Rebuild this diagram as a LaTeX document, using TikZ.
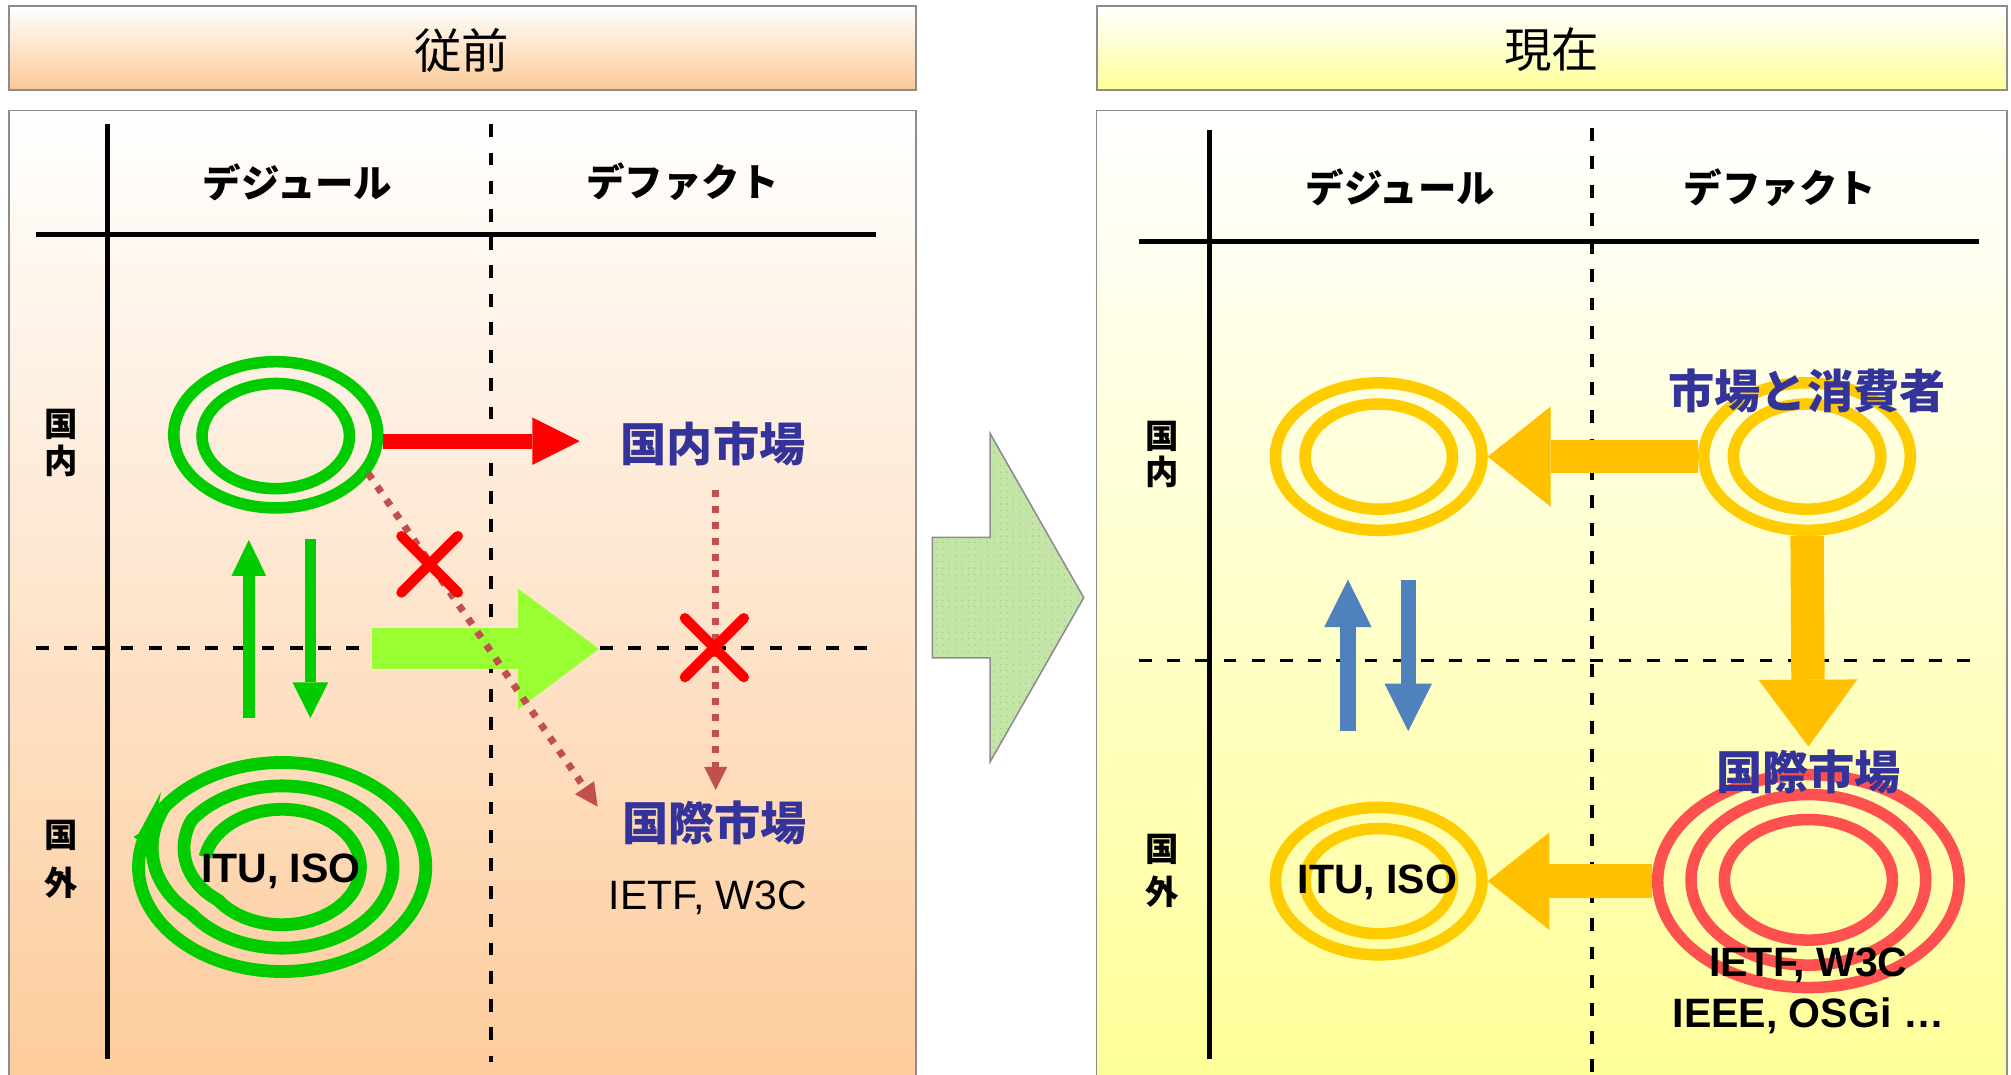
\documentclass[tikz,border=0pt]{standalone}
\usepackage{fontspec}
\setmainfont{Liberation Sans}
\newfontfamily\jp{Noto Sans CJK JP}
\usetikzlibrary{arrows.meta,shapes.geometric,patterns.meta}
\definecolor{frameGray}{HTML}{8C8C8C}
\definecolor{peachTitle}{HTML}{FCC995}
\definecolor{peachPanel}{HTML}{FDCC9C}
\definecolor{yellowTitle}{HTML}{FFFF99}
\definecolor{yellowPanel}{HTML}{FFFF99}
\definecolor{ringGreen}{HTML}{00CC00}
\definecolor{lightGreen}{HTML}{99FF33}
\definecolor{dotRed}{HTML}{C0504D}
\definecolor{mktBlue}{HTML}{333399}
\definecolor{ringGold}{HTML}{FFCC00}
\definecolor{arrowOrange}{HTML}{FFC000}
\definecolor{ringRed}{HTML}{FF5050}
\definecolor{arrowBlue}{HTML}{4F81BD}
\definecolor{midGreen}{HTML}{C4E4A8}
\definecolor{midDots}{HTML}{92CD6E}
\begin{document}
\begin{tikzpicture}[x=1pt,y=-1pt,
  titlebox/.style={draw=frameGray, line width=1.5pt},
  panelframe/.style={draw=frameGray, line width=1.2pt},
  axisline/.style={line width=4pt, black},
  gridline/.style={line width=3pt, black, dash pattern=on 10pt off 12pt},
  ring/.style n args={2}{ellipse, draw, inner sep=0pt, minimum width=#1pt, minimum height=#2pt},
  blockarrow/.style n args={3}{line width=#1pt, -{Triangle[width=#2pt,length=#3pt,line width=0pt]}},
  dotarrow/.style={draw=dotRed, line width=5.5pt, dash pattern=on 5.5pt off 7pt, -{Triangle[width=18pt,length=18pt,line width=0pt]}},
  xmark/.style={draw=red, line width=8pt, line cap=round},
  titletext/.style={font=\jp\fontsize{37}{40}\selectfont, inner sep=0pt},
  headtext/.style={font=\jp\bfseries\fontsize{30}{34}\selectfont, inner sep=0pt},
  sidetext/.style={font=\jp\bfseries\fontsize{26}{28}\selectfont, inner sep=0pt},
  mkt/.style={font=\jp\bfseries\fontsize{36}{40}\selectfont, text=mktBlue, inner sep=0pt},
  latb/.style={font=\bfseries\fontsize{32}{36}\selectfont, inner sep=0pt},
  latr/.style={font=\fontsize{32}{36}\selectfont, inner sep=0pt}
]
\useasboundingbox (0,0) rectangle (1568,838);

% ---------- title boxes ----------
\shade[top color=white, bottom color=peachTitle] (7,5) rectangle (714,70);
\draw[titlebox] (7,5) rectangle (714,70);
\shade[top color=white, bottom color=yellowTitle] (855,5) rectangle (1565,70);
\draw[titlebox] (855,5) rectangle (1565,70);
\node[titletext] (tLeft) at (360,39) {従前};
\node[titletext] (tRight) at (1210,39) {現在};

% ---------- panels ----------
\shade[top color=white, bottom color=peachPanel] (7,86) rectangle (714,838);
\draw[panelframe] (7,840) |- (714,86) -- (714,840);
\shade[top color=white, bottom color=yellowPanel] (855,86) rectangle (1565,838);
\draw[panelframe] (855,840) |- (1565,86) -- (1565,840);

% ---------- middle arrow ----------
\fill[midGreen]
  (727,419) -- (772,419) -- (772,338) -- (845,466) -- (772,594) -- (772,513) -- (727,513) -- cycle;
\fill[pattern={Dots[distance=5pt, radius=0.55pt]}, pattern color=midDots]
  (727,419) -- (772,419) -- (772,338) -- (845,466) -- (772,594) -- (772,513) -- (727,513) -- cycle;
\draw[draw=frameGray, line width=1.2pt, line join=miter]
  (727,419) -- (772,419) -- (772,338) -- (845,466) -- (772,594) -- (772,513) -- (727,513) -- cycle;

% ---------- grids ----------
\draw[axisline] (84,97) -- (84,826);
\draw[axisline] (28,183) -- (683,183);
\draw[gridline] (383,97) -- (383,828);
\draw[gridline] (28,505) -- (683,505);
\draw[axisline] (943,101) -- (943,826);
\draw[axisline] (888,188) -- (1543,188);
\draw[gridline] (1241,100) -- (1241,838);
\draw[gridline] (888,515) -- (1543,515);

% ---------- headers ----------
\node[headtext] (hL1) at (232,142) {デジュール};
\node[headtext] (hL2) at (532,142) {デファクト};
\node[headtext] (hR1) at (1092,146) {デジュール};
\node[headtext] (hR2) at (1388,146) {デファクト};

\node[sidetext] (sL1) at (48,331) {国};
\node[sidetext] (sL2) at (48,359) {内};
\node[sidetext] (sL3) at (48,651) {国};
\node[sidetext] (sL4) at (48,688) {外};
\node[sidetext] (sR1) at (906,340) {国};
\node[sidetext] (sR2) at (906,368) {内};
\node[sidetext] (sR3) at (906,662) {国};
\node[sidetext] (sR4) at (906,695) {外};

% ---------- left panel content ----------
\node[ring={159}{114}, draw=ringGreen, line width=9pt] (gTopO) at (215,339) {};
\node[ring={115}{82}, draw=ringGreen, line width=9pt] (gTopI) at (215,340) {};

\coordinate (redTip) at (452,344);
\draw[blockarrow={12}{37}{37}, draw=red, fill=red] ([yshift=-5pt]gTopO.east) -- (redTip);

\coordinate (upS) at (194,560); \coordinate (upE) at (194,421);
\coordinate (dnS) at (242,420); \coordinate (dnE) at (242,560);
\draw[blockarrow={9}{27}{28}, draw=ringGreen] (upS) -- (upE);
\draw[blockarrow={9}{28}{28}, draw=ringGreen] (dnS) -- (dnE);

\coordinate (lgS) at (290,506); \coordinate (lgE) at (467,506);
\draw[blockarrow={32}{94}{63}, draw=lightGreen] (lgS) -- (lgE);

\coordinate (diagS) at (287,369); \coordinate (diagE) at (466,629);
\draw[dotarrow] (diagS) -- (diagE);
\coordinate (vS) at (558,382); \coordinate (vE) at (558,616);
\draw[dotarrow] (vS) -- (vE);

\coordinate (x1) at (335,440);
\draw[xmark] (x1) +(-22,-22) -- +(22,22) (x1) +(-22,22) -- +(22,-22);
\coordinate (x2) at (557,505);
\draw[xmark] (x2) +(-23,-23) -- +(23,23) (x2) +(-23,23) -- +(23,-23);

% spiral (three nearly concentric turns, stepping outwards on the left)
\draw[draw=ringGreen, line width=10pt, -{Triangle[width=15pt,length=12pt,line width=0pt]}]
  plot[domain=190:1282, samples=400, smooth]
  ({220+(61+25.5*(min(1,max(0,(\x-505)/70))+min(1,max(0,(\x-865)/70))))*cos(\x)},
   {676+(45+18.25*(min(1,max(0,(\x-505)/70))+min(1,max(0,(\x-865)/70))))*sin(\x)});
\node[latb] (ituL) at (219,679) {ITU, ISO};

\node[mkt] (naiL) at (556,346) {国内市場};
\node[mkt] (intlL) at (557,642) {国際市場};
\node[latr] (ietfL) at (552,700) {IETF, W3C};

% ---------- right panel content ----------
\node[ring={161}{115}, draw=ringGold, line width=9pt] (yTLo) at (1075,356) {};
\node[ring={115}{82}, draw=ringGold, line width=9pt] (yTLi) at (1075,356) {};
\node[ring={161}{115}, draw=ringGold, line width=9pt] (yTRo) at (1409,356) {};
\node[ring={115}{82}, draw=ringGold, line width=9pt] (yTRi) at (1409,356) {};
\node[ring={161}{115}, draw=ringGold, line width=9pt] (yBLo) at (1075,687) {};
\node[ring={115}{82}, draw=ringGold, line width=9pt] (yBLi) at (1075,687) {};

\node[ring={235}{166}, draw=ringRed, line width=9pt] (rRo) at (1410,687) {};
\node[ring={183}{133}, draw=ringRed, line width=9pt] (rRm) at (1410,686) {};
\node[ring={131}{94}, draw=ringRed, line width=9pt] (rRi) at (1410,686) {};

\draw[blockarrow={26}{78}{49}, draw=arrowOrange] (yTRo.west) -- (yTLo.east);
\coordinate (odE) at (1410,582);
\draw[blockarrow={26}{77}{52}, draw=arrowOrange] (yTRo.south) -- (odE);
\draw[blockarrow={26}{76}{48}, draw=arrowOrange] (rRo.west) -- (yBLo.east);

\coordinate (buS) at (1051,570); \coordinate (buE) at (1051,452);
\coordinate (bdS) at (1098,452); \coordinate (bdE) at (1098,570);
\draw[blockarrow={12}{37}{37}, draw=arrowBlue] (buS) -- (buE);
\draw[blockarrow={12}{37}{37}, draw=arrowBlue] (bdS) -- (bdE);

\node[mkt] (consR) at (1409,305) {市場と消費者};
\node[mkt] (intlR) at (1410,602) {国際市場};
\node[latb] (ituR) at (1074,688) {ITU, ISO};
\node[latb] (ietfR) at (1410,753) {IETF, W3C};
\node[latb] (ieeeR) at (1410,792) {IEEE, OSGi …};
\end{tikzpicture}
\end{document}
